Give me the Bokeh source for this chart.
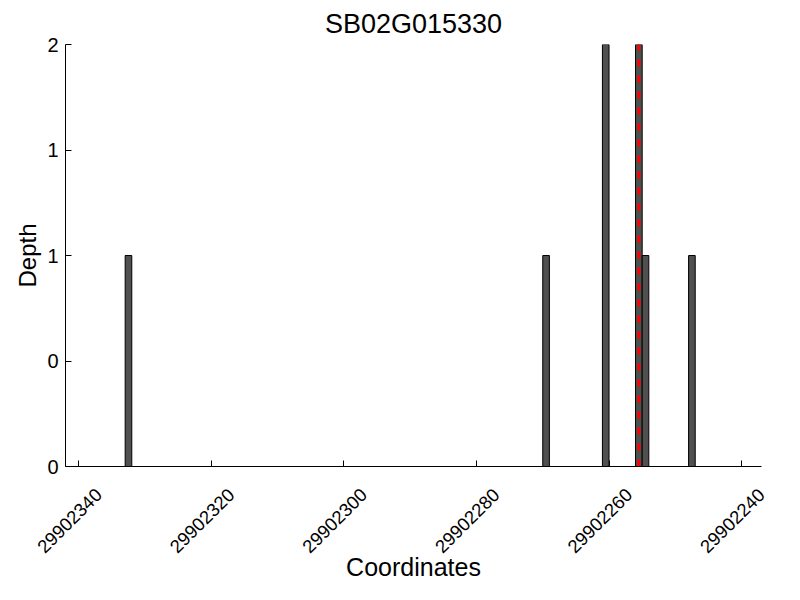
from bokeh.plotting import figure
from bokeh.models import Range1d, FixedTicker, ColumnDataSource, LinearAxis, CustomJSTickFormatter
from bokeh.embed import file_html
from bokeh.resources import INLINE
import math

# ---- data ----
TITLE = "SB02G015330"
BAR_CENTERS = [29902332.5, 29902269.5, 29902260.5, 29902255.5, 29902254.5, 29902247.5]
BAR_DEPTHS = [1, 1, 2, 2, 1, 1]
BAR_WIDTH = 1
SNP_POSITION = 29902255.5
X_TICKS = [29902340, 29902320, 29902300, 29902280, 29902260, 29902240]
X_TICK_LABELS = ["29902340", "29902320", "29902300", "29902280", "29902260", "29902240"]
Y_TICKS = [0, 0.5, 1, 1.5, 2]
Y_TICK_LABELS = ["0", "0", "1", "1", "2"]
X_START, X_END = 29902342, 29902237
Y_START, Y_END = 0, 2

FONT = "Liberation Sans"
LABEL_SHIFT = 2.99  # rotated tick labels sit right of their ticks (in axis units)

p = figure(
    width=784, height=584,
    frame_width=696, frame_height=422,
    min_border_left=65, min_border_right=23, min_border_top=42, min_border_bottom=120,
    x_range=Range1d(X_START, X_END), y_range=Range1d(Y_START, Y_END),
    output_backend="svg", toolbar_location=None, title=TITLE,
)
p.extra_x_ranges = {"labels": Range1d(X_START + LABEL_SHIFT, X_END + LABEL_SHIFT)}
p.outline_line_color = None
p.xgrid.visible = False
p.ygrid.visible = False
p.background_fill_color = "white"
p.border_fill_color = "white"

p.title.align = "center"
p.title.text_font = FONT
p.title.text_font_size = "27px"
p.title.text_font_style = "normal"
p.title.text_color = "black"
p.title.standoff = 12

src = ColumnDataSource(dict(x=BAR_CENTERS, top=BAR_DEPTHS))
p.vbar(x="x", top="top", bottom=0, width=BAR_WIDTH, source=src,
       fill_color="#505050", line_color="black", line_width=1)

p.line(x=[SNP_POSITION, SNP_POSITION], y=[Y_START, Y_END],
       line_color="red", line_width=3, line_dash="7 9")

# main x axis: line and inward ticks only
xa = p.xaxis[0]
xa.ticker = FixedTicker(ticks=X_TICKS)
xa.formatter = CustomJSTickFormatter(code="return '';")
xa.major_label_text_font_size = "1px"
xa.major_label_standoff = 0
xa.axis_line_color = "black"
xa.major_tick_in = 6
xa.major_tick_out = 0
xa.minor_tick_line_color = None
xa.major_tick_line_color = "black"

# label axis: rotated tick labels + axis title
la = LinearAxis(x_range_name="labels", ticker=FixedTicker(ticks=X_TICKS))
la.major_label_overrides = dict(zip(X_TICKS, X_TICK_LABELS))
la.major_label_orientation = math.pi / 4
la.major_label_standoff = 25
la.major_label_text_font = FONT
la.major_label_text_font_size = "18.5px"
la.major_label_text_color = "black"
la.axis_line_color = None
la.major_tick_line_color = None
la.minor_tick_line_color = None
la.major_tick_in = 0
la.major_tick_out = 0
la.axis_label = "Coordinates"
la.axis_label_standoff = -9
la.axis_label_text_font = FONT
la.axis_label_text_font_size = "25px"
la.axis_label_text_font_style = "normal"
la.axis_label_text_color = "black"
p.add_layout(la, "below")

ya = p.yaxis[0]
ya.ticker = FixedTicker(ticks=Y_TICKS)
ya.major_label_overrides = dict(zip(Y_TICKS, Y_TICK_LABELS))
ya.axis_label = "Depth"
ya.major_label_text_font = FONT
ya.major_label_text_font_size = "20px"
ya.major_label_text_color = "black"
ya.major_label_standoff = 7
ya.axis_label_standoff = 3
ya.axis_line_color = "black"
ya.major_tick_in = 6
ya.major_tick_out = 0
ya.minor_tick_line_color = None
ya.major_tick_line_color = "black"
ya.axis_label_text_font = FONT
ya.axis_label_text_font_size = "24px"
ya.axis_label_text_font_style = "normal"
ya.axis_label_text_color = "black"

open("out.html", "w").write(file_html(p, INLINE))
